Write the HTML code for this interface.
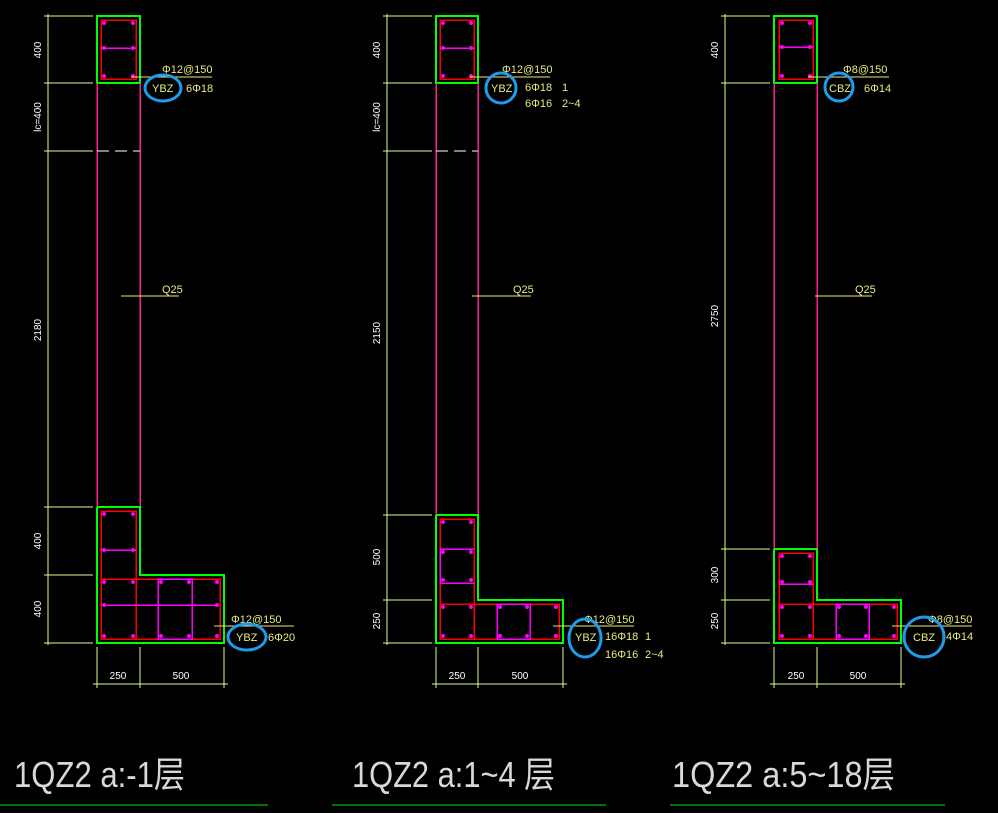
<!DOCTYPE html>
<html><head><meta charset="utf-8"><style>
html,body{margin:0;padding:0;background:#000;}
svg{display:block;}
text{font-family:"Liberation Sans","Noto Sans CJK SC",sans-serif;}
line,rect,polyline{shape-rendering:crispEdges}
.d{stroke:#d8ff90;stroke-width:1;fill:none}
.g{stroke:#00ff00;stroke-width:2;fill:none}
.r{stroke:#ff0000;stroke-width:1.5;fill:none}
.m{stroke:#ff00ff;stroke-width:1.5;fill:none}
.w{stroke:#ff2090;stroke-width:1.5;fill:none}
.y{stroke:#e8e878;stroke-width:1;fill:none}
.b{stroke:#1e9bea;stroke-width:3;fill:none}
.dt{fill:#fff;font-size:10px}
.yt{fill:#eaea80;font-size:11px}
.tt{fill:#d8d8d8;font-size:36px}
.dot{fill:#ff00ff}
</style></head><body>
<svg width="998" height="813" viewBox="0 0 998 813" xmlns="http://www.w3.org/2000/svg">
<!-- ============ COLUMN 1 ============ -->
<line class="d" x1="48" y1="14" x2="48" y2="645"/>
<g class="d">
<line x1="44" y1="16" x2="93" y2="16"/><line x1="44" y1="83" x2="93" y2="83"/>
<line x1="44" y1="151" x2="93" y2="151"/><line x1="44" y1="507" x2="93" y2="507"/>
<line x1="44" y1="575" x2="93" y2="575"/><line x1="44" y1="643" x2="93" y2="643"/>
</g>
<text class="dt" transform="translate(41,50) rotate(-90)" text-anchor="middle">400</text>
<text class="dt" transform="translate(41,117) rotate(-90)" text-anchor="middle">lc=400</text>
<text class="dt" transform="translate(41,330) rotate(-90)" text-anchor="middle">2180</text>
<text class="dt" transform="translate(41,541) rotate(-90)" text-anchor="middle">400</text>
<text class="dt" transform="translate(41,609) rotate(-90)" text-anchor="middle">400</text>
<rect class="g" x="97" y="16" width="43" height="67"/>
<rect class="r" x="101" y="20" width="35" height="59"/>
<line class="m" x1="101" y1="48" x2="136" y2="48"/>
<line class="w" x1="97" y1="83" x2="97" y2="507"/>
<line class="w" x1="140" y1="83" x2="140" y2="507"/>
<line x1="97" y1="151" x2="140" y2="151" stroke="#fff" stroke-width="1.2" stroke-dasharray="12,6"/>
<polyline class="g" points="97,507 140,507 140,575 224,575 224,643 97,643 97,507"/>
<rect class="r" x="101" y="511" width="35" height="128"/>
<rect class="r" x="101" y="579" width="119" height="60"/>
<line class="m" x1="101" y1="550" x2="136" y2="550"/>
<rect class="m" x="158" y="579" width="34" height="60"/>
<line class="m" x1="103" y1="605" x2="218" y2="605"/>
<g class="dot">
<circle cx="104" cy="23" r="2"/><circle cx="133" cy="23" r="2"/><circle cx="104" cy="48" r="2"/><circle cx="133" cy="48" r="2"/><circle cx="104" cy="76" r="2"/><circle cx="133" cy="76" r="2"/>
<circle cx="104" cy="514" r="2"/><circle cx="133" cy="514" r="2"/><circle cx="104" cy="550" r="2"/><circle cx="133" cy="550" r="2"/>
<circle cx="104" cy="582" r="2"/><circle cx="133" cy="582" r="2"/><circle cx="161" cy="582" r="2"/><circle cx="189" cy="582" r="2"/><circle cx="217" cy="582" r="2"/>
<circle cx="104" cy="605" r="2"/><circle cx="217" cy="605" r="2"/>
<circle cx="104" cy="636" r="2"/><circle cx="133" cy="636" r="2"/><circle cx="161" cy="636" r="2"/><circle cx="189" cy="636" r="2"/><circle cx="217" cy="636" r="2"/>
</g>
<line class="y" x1="131" y1="77" x2="212" y2="77"/>
<text class="yt" x="162" y="73">Φ12@150</text>
<text class="yt" x="152" y="92">YBZ</text>
<text class="yt" x="186" y="92">6Φ18</text>
<ellipse class="b" cx="163" cy="88" rx="18" ry="13"/>
<line class="y" x1="121" y1="296" x2="179" y2="296"/>
<text class="yt" x="162" y="293">Q25</text>
<line class="y" x1="214" y1="626" x2="294" y2="626"/>
<text class="yt" x="231" y="623">Φ12@150</text>
<text class="yt" x="236" y="641">YBZ</text>
<text class="yt" x="268" y="641">6Φ20</text>
<ellipse class="b" cx="247" cy="637" rx="19" ry="13"/>
<g class="d"><line x1="97" y1="647" x2="97" y2="688"/><line x1="140" y1="647" x2="140" y2="688"/><line x1="224" y1="647" x2="224" y2="688"/><line x1="93" y1="684" x2="228" y2="684"/></g>
<text class="dt" x="118" y="679" text-anchor="middle">250</text>
<text class="dt" x="181" y="679" text-anchor="middle">500</text>
<text class="tt" x="14" y="787" textLength="171" lengthAdjust="spacingAndGlyphs">1QZ2 a:-1层</text>
<line x1="0" y1="805" x2="268" y2="805" stroke="#00e000" stroke-width="1"/>

<!-- ============ COLUMN 2 ============ -->
<line class="d" x1="387" y1="14" x2="387" y2="645"/>
<g class="d">
<line x1="383" y1="16" x2="432" y2="16"/><line x1="383" y1="83" x2="432" y2="83"/>
<line x1="383" y1="151" x2="432" y2="151"/><line x1="383" y1="515" x2="432" y2="515"/>
<line x1="383" y1="600" x2="432" y2="600"/><line x1="383" y1="643" x2="432" y2="643"/>
</g>
<text class="dt" transform="translate(380,50) rotate(-90)" text-anchor="middle">400</text>
<text class="dt" transform="translate(380,117) rotate(-90)" text-anchor="middle">lc=400</text>
<text class="dt" transform="translate(380,333) rotate(-90)" text-anchor="middle">2150</text>
<text class="dt" transform="translate(380,557) rotate(-90)" text-anchor="middle">500</text>
<text class="dt" transform="translate(380,621) rotate(-90)" text-anchor="middle">250</text>
<rect class="g" x="436" y="16" width="42" height="67"/>
<rect class="r" x="440" y="20" width="34" height="59"/>
<line class="m" x1="440" y1="48" x2="474" y2="48"/>
<line class="w" x1="436" y1="83" x2="436" y2="515"/>
<line class="w" x1="478" y1="83" x2="478" y2="515"/>
<line x1="436" y1="151" x2="478" y2="151" stroke="#fff" stroke-width="1.2" stroke-dasharray="12,6"/>
<polyline class="g" points="436,515 478,515 478,600 563,600 563,643 436,643 436,515"/>
<rect class="r" x="440" y="519" width="34" height="120"/>
<rect class="r" x="440" y="604" width="119" height="35"/>
<line class="m" x1="440" y1="549" x2="474" y2="549"/>
<line class="m" x1="440" y1="583" x2="474" y2="583"/>
<line class="m" x1="440" y1="549" x2="440" y2="583"/>
<rect class="m" x="497" y="604" width="33" height="35"/>
<g class="dot">
<circle cx="443" cy="23" r="2"/><circle cx="471" cy="23" r="2"/><circle cx="443" cy="48" r="2"/><circle cx="471" cy="48" r="2"/><circle cx="443" cy="76" r="2"/><circle cx="471" cy="76" r="2"/>
<circle cx="443" cy="522" r="2"/><circle cx="471" cy="522" r="2"/><circle cx="443" cy="552" r="2"/><circle cx="471" cy="552" r="2"/><circle cx="443" cy="580" r="2"/><circle cx="471" cy="580" r="2"/>
<circle cx="443" cy="607" r="2"/><circle cx="471" cy="607" r="2"/><circle cx="500" cy="607" r="2"/><circle cx="527" cy="607" r="2"/><circle cx="556" cy="607" r="2"/>
<circle cx="443" cy="636" r="2"/><circle cx="471" cy="636" r="2"/><circle cx="500" cy="636" r="2"/><circle cx="527" cy="636" r="2"/><circle cx="556" cy="636" r="2"/>
</g>
<line class="y" x1="470" y1="77" x2="550" y2="77"/>
<text class="yt" x="502" y="73">Φ12@150</text>
<text class="yt" x="491" y="92">YBZ</text>
<text class="yt" x="525" y="91">6Φ18</text><text class="yt" x="562" y="91">1</text>
<text class="yt" x="525" y="107">6Φ16</text><text class="yt" x="562" y="107">2~4</text>
<ellipse class="b" cx="501" cy="88" rx="15" ry="15"/>
<line class="y" x1="472" y1="296" x2="531" y2="296"/>
<text class="yt" x="513" y="293">Q25</text>
<line class="y" x1="553" y1="626" x2="634" y2="626"/>
<text class="yt" x="584" y="623">Φ12@150</text>
<text class="yt" x="575" y="641">YBZ</text>
<text class="yt" x="605" y="640">16Φ18</text><text class="yt" x="645" y="640">1</text>
<text class="yt" x="605" y="658">16Φ16</text><text class="yt" x="645" y="658">2~4</text>
<ellipse class="b" cx="585" cy="638" rx="16" ry="19"/>
<g class="d"><line x1="436" y1="647" x2="436" y2="688"/><line x1="478" y1="647" x2="478" y2="688"/><line x1="563" y1="647" x2="563" y2="688"/><line x1="432" y1="684" x2="567" y2="684"/></g>
<text class="dt" x="457" y="679" text-anchor="middle">250</text>
<text class="dt" x="520" y="679" text-anchor="middle">500</text>
<text class="tt" x="352" y="787" textLength="203" lengthAdjust="spacingAndGlyphs">1QZ2 a:1~4 层</text>
<line x1="332" y1="805" x2="606" y2="805" stroke="#00e000" stroke-width="1"/>

<!-- ============ COLUMN 3 ============ -->
<line class="d" x1="725" y1="14" x2="725" y2="645"/>
<g class="d">
<line x1="721" y1="16" x2="770" y2="16"/><line x1="721" y1="83" x2="770" y2="83"/>
<line x1="721" y1="549" x2="770" y2="549"/><line x1="721" y1="600" x2="770" y2="600"/>
<line x1="721" y1="643" x2="770" y2="643"/>
</g>
<text class="dt" transform="translate(718,50) rotate(-90)" text-anchor="middle">400</text>
<text class="dt" transform="translate(718,316) rotate(-90)" text-anchor="middle">2750</text>
<text class="dt" transform="translate(718,575) rotate(-90)" text-anchor="middle">300</text>
<text class="dt" transform="translate(718,621) rotate(-90)" text-anchor="middle">250</text>
<rect class="g" x="774" y="16" width="43" height="67"/>
<rect class="r" x="779" y="20" width="34" height="59"/>
<line class="m" x1="779" y1="47" x2="813" y2="47"/>
<line class="w" x1="774" y1="83" x2="774" y2="549"/>
<line class="w" x1="817" y1="83" x2="817" y2="549"/>
<polyline class="g" points="774,549 817,549 817,600 901,600 901,643 774,643 774,549"/>
<rect class="r" x="779" y="553" width="34" height="86"/>
<rect class="r" x="779" y="604" width="118" height="35"/>
<line class="m" x1="779" y1="584" x2="813" y2="584"/>
<rect class="m" x="836" y="604" width="33" height="35"/>
<g class="dot">
<circle cx="782" cy="23" r="2"/><circle cx="810" cy="23" r="2"/><circle cx="782" cy="47" r="2"/><circle cx="810" cy="47" r="2"/><circle cx="782" cy="76" r="2"/><circle cx="810" cy="76" r="2"/>
<circle cx="782" cy="556" r="2"/><circle cx="810" cy="556" r="2"/><circle cx="782" cy="582" r="2"/><circle cx="810" cy="582" r="2"/>
<circle cx="782" cy="607" r="2"/><circle cx="810" cy="607" r="2"/><circle cx="839" cy="607" r="2"/><circle cx="866" cy="607" r="2"/><circle cx="894" cy="607" r="2"/>
<circle cx="782" cy="636" r="2"/><circle cx="810" cy="636" r="2"/><circle cx="839" cy="636" r="2"/><circle cx="866" cy="636" r="2"/><circle cx="894" cy="636" r="2"/>
</g>
<line class="y" x1="808" y1="77" x2="889" y2="77"/>
<text class="yt" x="843" y="73">Φ8@150</text>
<text class="yt" x="829" y="92">CBZ</text>
<text class="yt" x="864" y="92">6Φ14</text>
<ellipse class="b" cx="839" cy="87" rx="14" ry="14"/>
<line class="y" x1="815" y1="296" x2="872" y2="296"/>
<text class="yt" x="855" y="293">Q25</text>
<line class="y" x1="892" y1="626" x2="972" y2="626"/>
<text class="yt" x="928" y="623">Φ8@150</text>
<text class="yt" x="913" y="641">CBZ</text>
<text class="yt" x="946" y="640">4Φ14</text>
<ellipse class="b" cx="924" cy="637" rx="20" ry="20"/>
<g class="d"><line x1="774" y1="647" x2="774" y2="688"/><line x1="817" y1="647" x2="817" y2="688"/><line x1="901" y1="647" x2="901" y2="688"/><line x1="770" y1="684" x2="905" y2="684"/></g>
<text class="dt" x="796" y="679" text-anchor="middle">250</text>
<text class="dt" x="858" y="679" text-anchor="middle">500</text>
<text class="tt" x="672" y="787" textLength="223" lengthAdjust="spacingAndGlyphs">1QZ2 a:5~18层</text>
<line x1="670" y1="805" x2="945" y2="805" stroke="#00e000" stroke-width="1"/>
</svg>
</body></html>
